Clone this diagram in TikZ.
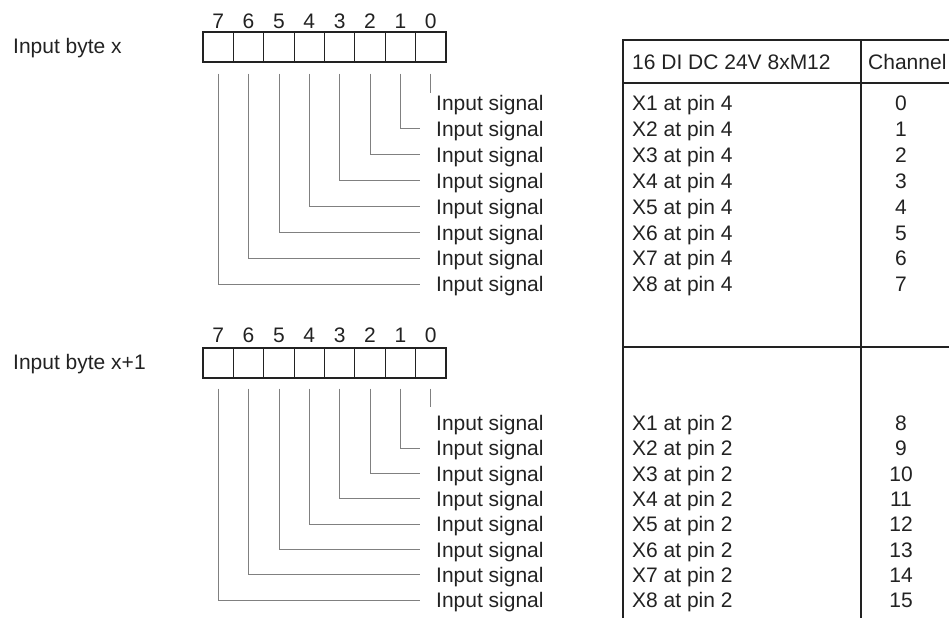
\documentclass[tikz,border=0pt]{standalone}
\usepackage{fontspec}
\setmainfont{Liberation Sans}
\definecolor{ink}{HTML}{222222}
\definecolor{wiregray}{HTML}{808080}
\begin{document}
\begin{tikzpicture}[x=1pt,y=-1pt,
    font=\fontsize{21}{25}\selectfont, text=ink,
    cell/.style={draw=ink, line width=1.1pt, minimum width=30.375pt, minimum height=30pt, inner sep=0pt},
    txt/.style={anchor=west, inner sep=0pt, text height=15pt, text depth=0pt},
    num/.style={inner sep=0pt, text height=15pt, text depth=0pt},
    wire/.style={draw=wiregray, line width=0.9pt},
    rule/.style={draw=ink, line width=1.3pt}]
  \useasboundingbox (0,0) rectangle (949,618);
  % input byte x
  \node[txt] (bytea) at (13,46) {Input byte x};
  \foreach \b in {0,...,7} {
    \node[cell] (a\b) at ({218.2+30.375*(7-\b)},47) {};
    \node[num] (da\b) at (a\b |- 0,21) {\b};
    \node[txt] (sa\b) at (436,{103+25.9*\b}) {Input signal};
  }
  \draw[wire] ([yshift=-11pt]a0.south) -- ++(0,19);
  \foreach \b in {1,...,7}
    \draw[wire] ([yshift=-11pt]a\b.south) |- ([xshift=-16pt]sa\b.west);
  % input byte x+1
  \node[txt] (byteb) at (13,362) {Input byte x+1};
  \foreach \b in {0,...,7} {
    \node[cell] (b\b) at ({218.2+30.375*(7-\b)},363) {};
    \node[num] (db\b) at (b\b |- 0,335) {\b};
    \node[txt] (sb\b) at (436,{423+25.3*\b}) {Input signal};
  }
  \draw[wire] ([yshift=-10pt]b0.south) -- ++(0,18);
  \foreach \b in {1,...,7}
    \draw[wire] ([yshift=-10pt]b\b.south) |- ([xshift=-16pt]sb\b.west);
  % module table
  \draw[rule] (623,618) -- (623,40) -- (949,40);
  \draw[rule] (861,40) -- (861,618);
  \draw[rule] (623,83) -- (949,83);
  \draw[rule] (623,347) -- (949,347);
  \node[txt] (head) at (632,62) {16 DI DC 24V 8xM12};
  \node[txt] (chan) at (868,62) {Channel};
  \foreach \b in {0,...,7} {
    \pgfmathtruncatemacro{\pin}{\b+1}
    \pgfmathtruncatemacro{\chb}{\b+8}
    \node[txt] (xa\b) at (632,{103+25.9*\b}) {X\pin{} at pin 4};
    \node[num] (ca\b) at (901,{103+25.9*\b}) {\b};
    \node[txt] (xb\b) at (632,{423+25.3*\b}) {X\pin{} at pin 2};
    \node[num] (cb\b) at (901,{423+25.3*\b}) {\chb};
  }
\end{tikzpicture}
\end{document}
